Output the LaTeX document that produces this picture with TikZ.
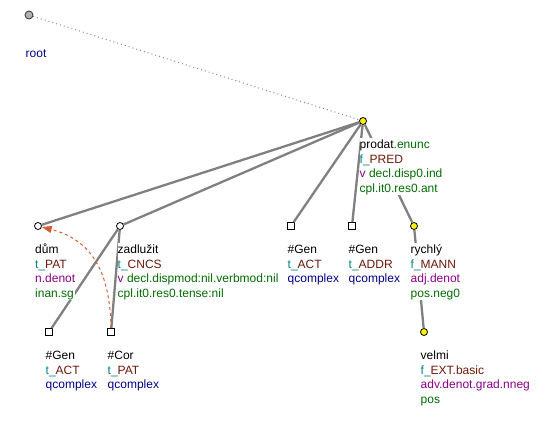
\documentclass[tikz,border=0pt]{standalone}
\usepackage{fontspec}
\setmainfont{Liberation Sans}
\usetikzlibrary{arrows.meta}

\definecolor{fpre}{RGB}{0,130,130}
\definecolor{fname}{RGB}{110,25,10}
\definecolor{gram}{RGB}{140,0,140}
\definecolor{grgreen}{RGB}{0,110,0}
\definecolor{qblue}{RGB}{0,0,140}
\definecolor{corcol}{RGB}{210,95,55}

\newcommand{\fnc}[2]{\textcolor{fpre}{#1}\textcolor{fname}{#2}}
\newcommand{\gr}[1]{\textcolor{grgreen}{#1}}
\newcommand{\sm}[1]{\textcolor{gram}{#1}}
\newcommand{\qc}[1]{\textcolor{qblue}{#1}}

\tikzset{
  tnode/.style={circle, draw=black, fill=white, inner sep=0pt, minimum size=7pt, line width=0.8pt},
  tyellow/.style={tnode, fill=yellow},
  tgen/.style={rectangle, draw=black, fill=white, inner sep=0pt, minimum size=7pt, line width=0.8pt},
  troot/.style={circle, draw=black!75, fill=gray!60, inner sep=0pt, minimum size=8pt, line width=0.9pt},
  tedge/.style={draw=black!50, line width=2.3pt},
  rootedge/.style={draw=black!45, line width=1pt, dash pattern=on 1pt off 3pt},
  lbl/.style={anchor=north west, inner sep=0pt, fill=white, align=left, font=\fontsize{12}{14.7}\selectfont},
  coref/.style={draw=corcol, line width=1pt, dashed, -{Triangle[length=10pt, width=7pt]}}
}

\begin{document}
\begin{tikzpicture}[x=1pt, y=-1pt]
  \useasboundingbox (0,0) rectangle (560,441);

  %%%%% nodes %%%%%
  \node[troot] (root) at (29,15) {};
  \node[tyellow] (prodat) at (363,121) {};
  \node[tnode] (dum) at (38,226) {};
  \node[tnode] (zadl) at (120,226) {};
  \node[tgen] (genact) at (291,226) {};
  \node[tgen] (genaddr) at (352,226) {};
  \node[tyellow] (rychly) at (414,226) {};
  \node[tgen] (genzad) at (49,332) {};
  \node[tgen] (cor) at (111,332) {};
  \node[tyellow] (velmi) at (424,332) {};

  %%%%% edges %%%%%
  \draw[rootedge] (root) -- (prodat);
  \draw[tedge] (prodat) -- (dum);
  \draw[tedge] (prodat) -- (zadl);
  \draw[tedge] (prodat) -- (genact);
  \draw[tedge] (prodat) -- (genaddr);
  \draw[tedge] (prodat) -- (rychly);
  \draw[tedge] (zadl) -- (genzad);
  \draw[tedge] (zadl) -- (cor);
  \draw[tedge] (rychly) -- (velmi);

  %%%%% labels %%%%%
  \node[lbl] (rootlbl) at (25.5,32) {\strut\\ \qc{root}};
  \node[lbl] (prodatlbl) at (359.5,138) {\strut prodat\gr{.enunc}\\ \fnc{f\_}{PRED}\\ \sm{v} \gr{decl.disp0.ind}\\ \gr{cpl.it0.res0.ant}};
  \node[lbl] (dumlbl) at (35,243) {\strut dům\\ \fnc{t\_}{PAT}\\ \sm{n.denot}\\ \gr{inan.sg}};
  \node[lbl] (zadllbl) at (117.5,243) {\strut zadlužit\\ \fnc{t\_}{CNCS}\\ \sm{v} \gr{decl.dispmod:nil.verbmod:nil}\\ \gr{cpl.it0.res0.tense:nil}};
  \node[lbl] (genactlbl) at (287.5,243) {\strut \#Gen\\ \fnc{t\_}{ACT}\\ \qc{qcomplex}};
  \node[lbl] (genaddrlbl) at (348.5,243) {\strut \#Gen\\ \fnc{t\_}{ADDR}\\ \qc{qcomplex}};
  \node[lbl] (rychlylbl) at (410.5,243) {\strut rychlý\\ \fnc{f\_}{MANN}\\ \sm{adj.denot}\\ \gr{pos.neg0}};
  \node[lbl] (genzadlbl) at (45.5,349) {\strut \#Gen\\ \fnc{t\_}{ACT}\\ \qc{qcomplex}};
  \node[lbl] (corlbl) at (107.5,349) {\strut \#Cor\\ \fnc{t\_}{PAT}\\ \qc{qcomplex}};
  \node[lbl] (velmilbl) at (420.5,349) {\strut velmi\\ \fnc{f\_}{EXT.basic}\\ \sm{adv.denot.grad.nneg}\\ \gr{pos}};

  % coreference
  \draw[coref] (cor.north) .. controls (110,272) and (92,240) .. (dum);
\end{tikzpicture}
\end{document}
